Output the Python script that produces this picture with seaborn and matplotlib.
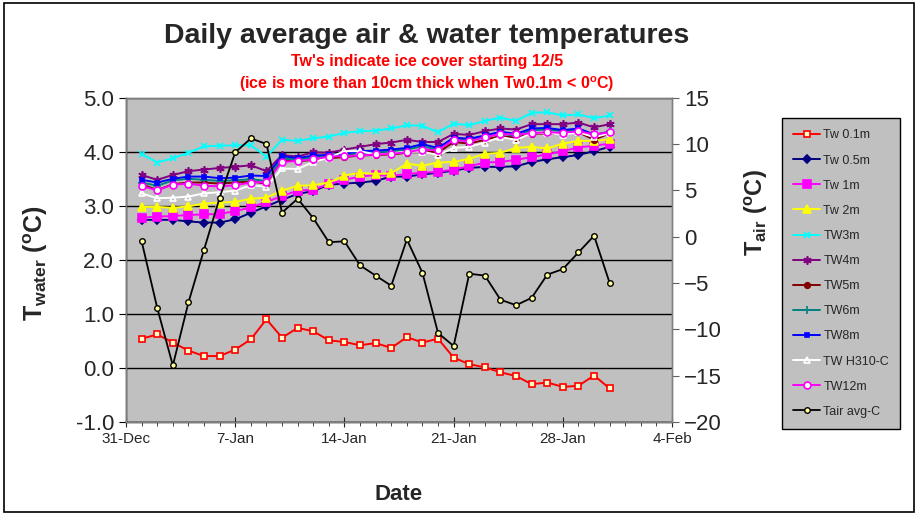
import numpy as np
import pandas as pd
import seaborn as sns
import matplotlib.pyplot as plt
import matplotlib.dates as mdates
from matplotlib.patches import Rectangle

# daily values, 1-Jan .. 31-Jan
dates = pd.date_range("2005-01-01", periods=31, freq="D")
tick_dates = pd.date_range("2004-12-31", periods=6, freq="7D")

tw_01 = [0.54, 0.62, 0.47, 0.32, 0.22, 0.22, 0.34, 0.53, 0.90, 0.56, 0.74, 0.68, 0.51, 0.48, 0.42, 0.46,
         0.37, 0.57, 0.47, 0.54, 0.19, 0.07, 0.01, -0.08, -0.15, -0.30, -0.27, -0.35, -0.33, -0.14, -0.38]
tw_05 = [2.74, 2.74, 2.74, 2.71, 2.69, 2.69, 2.75, 2.87, 2.99, 3.11, 3.22, 3.27, 3.39, 3.41, 3.43, 3.46,
         3.54, 3.54, 3.58, 3.61, 3.65, 3.70, 3.72, 3.72, 3.73, 3.81, 3.86, 3.90, 3.94, 4.01, 4.09]
tw_1 = [2.78, 2.80, 2.81, 2.83, 2.84, 2.85, 2.90, 2.97, 3.07, 3.18, 3.28, 3.30, 3.40, 3.48, 3.54, 3.57,
        3.55, 3.59, 3.61, 3.63, 3.67, 3.73, 3.80, 3.81, 3.85, 3.90, 3.95, 4.01, 4.08, 4.11, 4.15]
tw_2 = [2.98, 2.98, 2.96, 2.99, 3.04, 3.06, 3.07, 3.13, 3.15, 3.28, 3.37, 3.38, 3.43, 3.56, 3.61, 3.59,
        3.60, 3.78, 3.74, 3.80, 3.81, 3.87, 3.96, 3.98, 4.07, 4.09, 4.06, 4.15, 4.20, 4.20, 4.23]
tw_3 = [3.96, 3.80, 3.88, 3.98, 4.10, 4.11, 4.12, 4.12, 3.91, 4.22, 4.20, 4.25, 4.28, 4.35, 4.38, 4.39,
        4.43, 4.49, 4.48, 4.36, 4.52, 4.49, 4.57, 4.63, 4.57, 4.72, 4.73, 4.67, 4.69, 4.62, 4.67]
tw_4 = [3.57, 3.48, 3.57, 3.64, 3.67, 3.70, 3.72, 3.75, 3.64, 3.94, 3.91, 3.99, 3.98, 4.04, 4.09, 4.14,
        4.17, 4.22, 4.18, 4.18, 4.33, 4.31, 4.38, 4.43, 4.41, 4.51, 4.51, 4.51, 4.54, 4.45, 4.51]
tw_5 = [3.40, 3.29, 3.40, 3.43, 3.43, 3.41, 3.43, 3.45, 3.41, 3.85, 3.82, 3.85, 3.88, 3.90, 3.93, 3.94,
        3.95, 3.98, 4.02, 3.98, 4.18, 4.15, 4.22, 4.29, 4.26, 4.33, 4.34, 4.32, 4.36, 4.22, 4.34]
tw_6 = [3.43, 3.37, 3.47, 3.50, 3.48, 3.46, 3.47, 3.49, 3.46, 3.88, 3.85, 3.90, 3.91, 3.93, 3.98, 3.99,
        4.01, 4.04, 4.10, 4.04, 4.23, 4.21, 4.27, 4.34, 4.29, 4.40, 4.41, 4.38, 4.40, 4.30, 4.38]
tw_8 = [3.48, 3.43, 3.50, 3.54, 3.54, 3.51, 3.52, 3.56, 3.55, 3.92, 3.88, 3.93, 3.94, 3.96, 4.01, 4.02,
        4.04, 4.07, 4.14, 4.07, 4.26, 4.24, 4.30, 4.37, 4.33, 4.43, 4.44, 4.40, 4.43, 4.32, 4.35]
tw_h310 = [3.23, 3.14, 3.15, 3.17, 3.23, 3.25, 3.28, 3.38, 3.35, 3.69, 3.68, 3.81, 3.89, 4.01, 4.01, 3.95,
           3.97, 4.00, 4.00, 3.94, 4.07, 4.09, 4.17, 4.27, 4.22, 4.34, 4.35, 4.31, 4.36, 4.27, 4.34]
tw_12 = [3.36, 3.29, 3.39, 3.41, 3.37, 3.36, 3.38, 3.43, 3.44, 3.81, 3.83, 3.86, 3.91, 3.92, 3.93, 3.95,
         3.96, 3.99, 4.04, 4.03, 4.22, 4.19, 4.27, 4.33, 4.32, 4.34, 4.36, 4.35, 4.38, 4.32, 4.36]
t_air = [-0.5, -7.7, -13.9, -7.1, -1.4, 4.2, 9.1, 10.6, 10.0, 2.6, 4.1, 2.0, -0.6, -0.5, -3.1, -4.2,
         -5.3, -0.3, -3.9, -10.4, -11.8, -4.0, -4.2, -6.8, -7.4, -6.6, -4.1, -3.5, -1.7, 0.1, -5.0]

water_series = [
    # label, values, color, marker, size, face, edge
    ("Tw 0.1m", tw_01, "#FF0000", "s", 5, "#FFFFCC", "#FF0000"),
    ("Tw 0.5m", tw_05, "#000080", "D", 4, "#000080", "#000080"),
    ("Tw 1m", tw_1, "#FF00FF", "s", 6, "#FF00FF", "#FF00FF"),
    ("Tw 2m", tw_2, "#FFFF00", "^", 6, "#FFFF00", "#FFFF00"),
    ("TW3m", tw_3, "#00FFFF", "x", 5, "#00FFFF", "#00FFFF"),
    ("TW4m", tw_4, "#800080", (6, 2, 0), 6, "#800080", "#800080"),
    ("TW5m", tw_5, "#800000", "o", 4, "#800000", "#800000"),
    ("TW6m", tw_6, "#008080", "+", 6, "#008080", "#008080"),
    ("TW8m", tw_8, "#0000FF", "s", 3.5, "#0000FF", "#0000FF"),
    ("TW H310-C", tw_h310, "#FFFFFF", "^", 5, "none", "#FFFFFF"),
    ("TW12m", tw_12, "#FF00FF", "o", 5, "#FFFFFF", "#FF00FF"),
]

sns.set_style("white")
plt.rcParams['font.family'] = ['Liberation Sans', 'DejaVu Sans']
plt.rcParams['mathtext.default'] = 'regular'

fig = plt.figure(figsize=(9.18, 5.14), dpi=100)
fig.patches.append(Rectangle((0.004, 0.004), 0.992, 0.99, transform=fig.transFigure,
                             fill=False, edgecolor='black', linewidth=1.2))
ax = fig.add_axes([0.1373, 0.179, 0.5948, 0.631])
ax.set_facecolor('#C0C0C0')

for name, vals, col, mk, ms, mfc, mec in water_series:
    sns.lineplot(x=dates, y=vals, ax=ax, color=col, marker=mk, markersize=ms,
                 markerfacecolor=mfc, markeredgecolor=mec, markeredgewidth=1.2,
                 linewidth=1.4, label=name)

ax2 = ax.twinx()
sns.lineplot(x=dates, y=t_air, ax=ax2, color='black', marker='o', markersize=4,
             markerfacecolor='#FFFF99', markeredgecolor='black', markeredgewidth=1.0,
             linewidth=1.3, label='Tair avg-C')

for a in (ax, ax2):
    if a.get_legend() is not None:
        a.get_legend().remove()

ax.set_xlim(tick_dates[0], tick_dates[-1])
ax.set_ylim(-1.0, 5.0)
ax.set_yticks(np.arange(-1.0, 5.01, 1.0))
ax.yaxis.set_major_formatter(plt.FormatStrFormatter('%.1f'))
ax2.set_ylim(-20, 15)
ax2.set_yticks(np.arange(-20, 16, 5))

ax.set_xticks(tick_dates)
ax.xaxis.set_major_formatter(mdates.DateFormatter('%-d-%b'))
ax.xaxis.set_minor_locator(mdates.DayLocator())

ax.grid(axis='y', color='black', linewidth=1.0)
ax.grid(axis='x', visible=False)
ax.set_axisbelow(True)

for a in (ax, ax2):
    for s in a.spines.values():
        s.set_color('#808080')
        s.set_linewidth(1.0)
ax.spines['left'].set_color('black')
ax.spines['bottom'].set_color('black')

ax.tick_params(axis='y', labelsize=16, length=5, direction='out', color='black', left=True)
ax.tick_params(axis='x', which='major', labelsize=11, length=7, direction='inout', bottom=True)
ax.tick_params(axis='x', which='minor', length=3, direction='out', bottom=True)
ax2.tick_params(axis='y', labelsize=16, length=5, direction='out', color='#606060', right=True)

ax.set_xlabel('Date', fontsize=16, fontweight='bold')
ax.xaxis.set_label_coords(0.5, -0.19)
ax.set_ylabel('T$_{water}$ ($^{o}$C)', fontsize=18, fontweight='bold')
ax.yaxis.set_label_coords(-0.14, 0.49)
ax2.set_ylabel('T$_{air}$ ($^{o}$C)', fontsize=17, fontweight='bold')
ax2.yaxis.set_label_coords(1.13, 0.645)

fig.text(0.465, 0.93, 'Daily average air & water temperatures', ha='center', va='center',
         fontsize=20.5, fontweight='bold')
fig.text(0.465, 0.881, "Tw's indicate ice cover starting 12/5", ha='center', va='center',
         fontsize=11.5, fontweight='bold', color='#FF0000')
fig.text(0.465, 0.837, '(ice is more than 10cm thick when Tw0.1m < 0$^{o}$C)', ha='center',
         va='center', fontsize=11.5, fontweight='bold', color='#FF0000')

h1, l1 = ax.get_legend_handles_labels()
h2, l2 = ax2.get_legend_handles_labels()
leg = fig.legend(h1 + h2, l1 + l2, loc='upper left', bbox_to_anchor=(0.852, 0.770),
                 fontsize=9, frameon=True, fancybox=False, labelspacing=1.05,
                 handlelength=2.1, borderpad=0.9, handletextpad=0.3, borderaxespad=0)
leg.get_frame().set_facecolor('#C0C0C0')
leg.get_frame().set_edgecolor('black')
leg.get_frame().set_linewidth(1.0)
leg.get_frame().set_alpha(1)

fig.savefig('out.png', dpi=100)
